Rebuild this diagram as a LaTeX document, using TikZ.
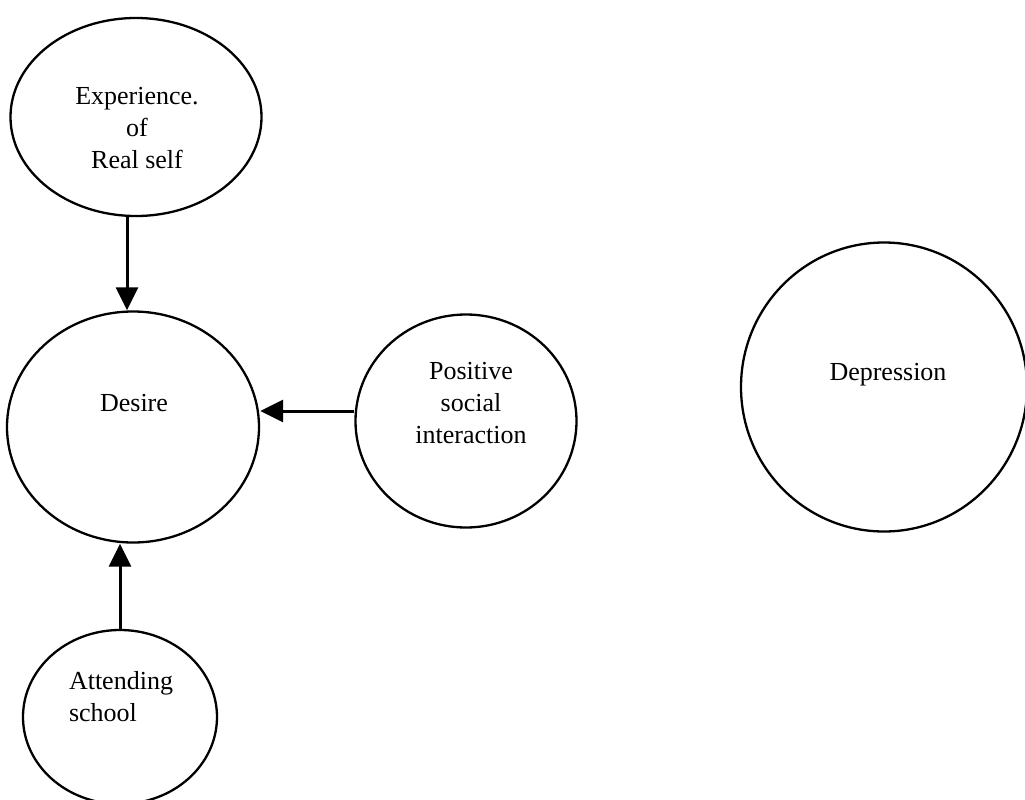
\documentclass[tikz,border=0pt]{standalone}
\usepackage{fontspec}
\setmainfont{Liberation Serif}
\usetikzlibrary{arrows.meta,shapes.geometric}

\tikzset{
  bubble/.style={draw=black, line width=2.3pt, ellipse, inner sep=0pt},
  txt/.style={font=\fontsize{26}{32}\selectfont, inner sep=0pt},
  arr/.style={line width=3pt, -{Triangle[length=23pt,width=22pt]}}
}

\begin{document}
\begin{tikzpicture}[x=1pt,y=-1pt]
  \useasboundingbox (0,0) rectangle (1025,800);

  % circles
  \node[bubble, minimum width=251pt, minimum height=198pt] (exp) at (136,117) {};
  \node[bubble, minimum width=252pt, minimum height=231pt] (des) at (133,427) {};
  \node[bubble, minimum width=221pt, minimum height=213pt] (psi) at (466,421) {};
  \node[bubble, minimum width=194pt, minimum height=174pt] (att) at (120,717) {};
  \node[bubble, minimum width=286pt, minimum height=289pt] (dep) at (884,387) {};

  % labels
  \node[txt, align=center] (exptxt) at (137,128) {Experience.\\of\\Real self};
  \node[txt, anchor=base] (destxt) at (134,411) {Desire};
  \node[txt, align=center] (psitxt) at (471,403) {Positive\\social\\interaction};
  \node[txt, align=left] (atttxt) at (121,697) {Attending\\school};
  \node[txt, anchor=base] (deptxt) at (888,380) {Depression};

  % influences on desire
  \draw[arr] ([xshift=-9pt]exp.south) -- ([xshift=-9pt]exp.south |- des.north);
  \draw[arr] ([yshift=10pt]psi.west) -- ([yshift=10pt]psi.west -| des.east);
  \draw[arr] (att.north) -- (att.north |- des.south);
\end{tikzpicture}
\end{document}
